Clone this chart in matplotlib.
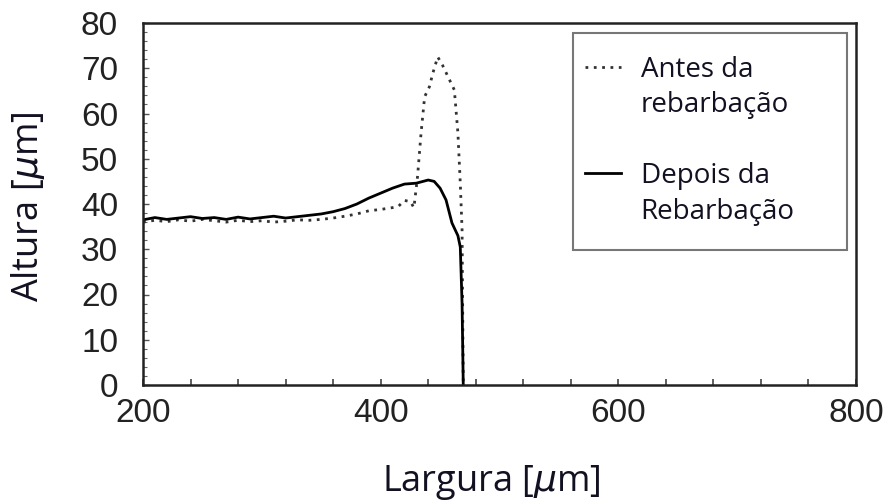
import numpy as np
import matplotlib
matplotlib.use("Agg")
import matplotlib.pyplot as plt
from matplotlib.lines import Line2D
from matplotlib.patches import Rectangle
from matplotlib.ticker import MultipleLocator

# perfil depois da rebarbacao (linha cheia)
depois_x = [200, 210, 220, 230, 240, 250, 260, 270, 280, 290, 300, 310, 320, 330,
            340, 350, 360, 370, 380, 390, 400, 410, 420, 430, 440, 445, 450, 455,
            460, 465, 467, 468.5, 469.5]
depois_y = [36.5, 37.0, 36.6, 36.9, 37.2, 36.8, 37.0, 36.6, 37.1, 36.7, 37.0, 37.3,
            36.9, 37.2, 37.5, 37.8, 38.3, 39.0, 40.0, 41.3, 42.4, 43.5, 44.4, 44.6,
            45.3, 45.0, 43.5, 40.9, 35.8, 33.0, 30.5, 18.0, 0.0]

# perfil antes da rebarbacao (pontilhado)
antes_x = [200, 210, 220, 230, 240, 250, 260, 270, 280, 290, 300, 310, 320, 330,
           340, 350, 360, 370, 380, 390, 400, 410, 415, 420, 425, 428, 431, 434,
           437, 441, 444, 448, 452, 458, 462, 465, 467, 468.5, 469.5]
antes_y = [36.0, 36.4, 36.1, 36.5, 36.2, 36.6, 36.3, 36.0, 36.4, 36.1, 36.3, 36.0,
           36.2, 36.5, 36.4, 36.6, 36.9, 37.3, 37.8, 38.5, 38.8, 39.2, 39.5, 40.8,
           40.5, 39.2, 46.0, 55.7, 63.7, 65.9, 69.0, 72.5, 70.7, 67.4, 65.2, 55.7,
           44.6, 34.3, 0.0]

tick_font = 'Liberation Sans'
label_font = ['Open Sans', 'DejaVu Sans']
txt_color = '#111122'

plt.rcParams['mathtext.fontset'] = 'dejavusans'

fig = plt.figure(figsize=(8.88, 5.01), dpi=100)
ax = fig.add_axes([143/888, 116/501, 713/888, 362/501])

l_antes, = ax.plot(antes_x, antes_y, color='#333333', lw=2.0,
                   linestyle=(0, (1, 2.0)))
l_depois, = ax.plot(depois_x, depois_y, color='black', lw=2.0)

ax.set_xlim(200, 800)
ax.set_ylim(0, 80)
ax.set_xticks([200, 400, 600, 800])
ax.xaxis.set_minor_locator(MultipleLocator(40))
ax.yaxis.set_major_locator(MultipleLocator(10))
ax.yaxis.set_minor_locator(MultipleLocator(2))
ax.tick_params(axis='x', which='both', direction='in', length=4, width=1.2,
               color='#444444', labelsize=24, pad=9, labelcolor='#222222')
ax.tick_params(axis='y', which='major', direction='in', length=4, width=1.0,
               color='#555555', labelsize=24, pad=18, labelcolor='#222222')
ax.tick_params(axis='y', which='minor', direction='in', length=3, width=0.8,
               color='#666666')
for lab in ax.get_xticklabels() + ax.get_yticklabels():
    lab.set_fontfamily(tick_font)
for s in ax.spines.values():
    s.set_linewidth(1.8)
    s.set_color('#222222')

# moldura da legenda desenhada a parte (margens diferentes em x e y)
ax.add_patch(Rectangle((0.603, 0.373), 0.384, 0.599, transform=ax.transAxes,
                       facecolor='white', edgecolor='#777777', lw=1.5, zorder=4))

# legenda: cada rotulo em duas linhas, traco alinhado com a primeira linha
vazio = Line2D([], [], linestyle='none')
handles = [l_antes, vazio, vazio, l_depois, vazio]
labels = ['Antes da', 'rebarbação', ' ', 'Depois da', 'Rebarbação']
leg = ax.legend(handles, labels, loc='upper left',
                bbox_to_anchor=(0.620, 0.910), borderaxespad=0, borderpad=0,
                frameon=False, handlelength=1.3, handletextpad=0.7,
                labelspacing=0.27, prop={'family': label_font, 'size': 20})
leg.set_zorder(5)
for t in leg.get_texts():
    t.set_color(txt_color)

fig.text(491/888, 1 - 482/501, 'Largura [$\\mu$m]', ha='center', va='center',
         fontsize=26, family=label_font, color=txt_color)
fig.text(28/888, 1 - 207/501, 'Altura [$\\mu$m]', ha='center', va='center',
         rotation=90, fontsize=26, family=label_font, color=txt_color)

fig.savefig('out.png', dpi=100)
